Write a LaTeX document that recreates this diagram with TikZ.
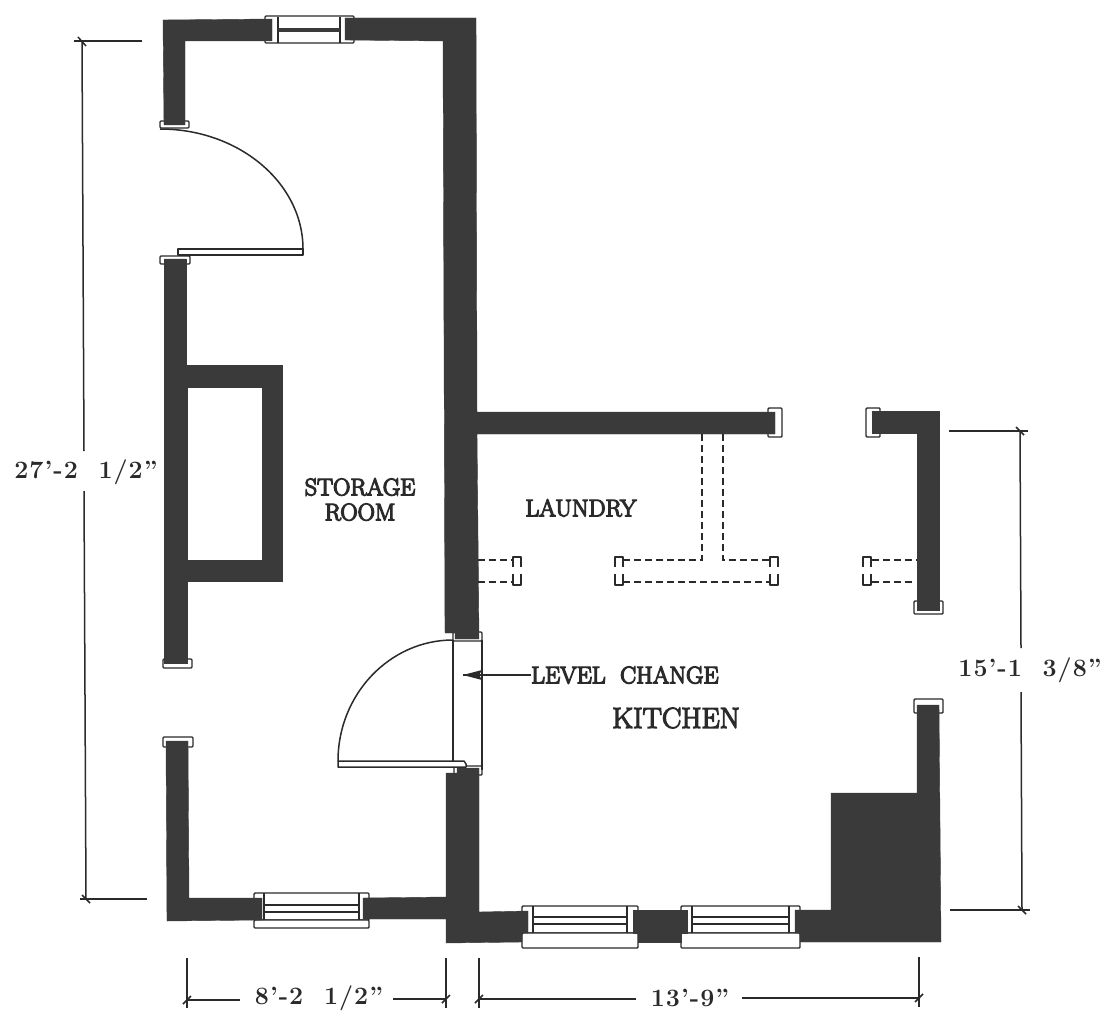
\documentclass[tikz,border=0pt]{standalone}
\usepackage{fontspec}
\newfontfamily\lab[Ligatures=TeX]{Latin Modern Roman}
\newfontfamily\dimf[Ligatures=TeX,LetterSpace=4]{Latin Modern Roman}
\newcommand{\heavy}[1]{\special{pdf:code 2 Tr 1.25 w 0.165 G}#1\special{pdf:code 0 Tr 1 w}}
\tikzset{
 wall/.style={fill=wallc,draw=wallc,line width=0.4pt},
 thin line/.style={draw=linec,line width=1.5pt,line join=round},
 jamb/.style={draw=linec,fill=white,line width=1.4pt,rounded corners=1pt},
 dimline/.style={draw=linec,line width=1.5pt},
 hid/.style={draw=linec,line width=1.4pt,dash pattern=on 7pt off 4pt},
 label/.style={font=\lab\fontsize{24}{25}\selectfont,text=linec,inner sep=0pt,align=center},
 dimtext/.style={font=\dimf\bfseries\fontsize{25}{28}\selectfont,text=linec,inner sep=0pt},
}
\definecolor{wallc}{HTML}{3A3A3A}
\definecolor{linec}{HTML}{2A2A2A}
\begin{document}
\begin{tikzpicture}[x=1pt,y=-1pt]
\useasboundingbox[fill=white] (0,0) rectangle (1113,1024);
% jambs and window frames
\foreach \a/\b/\c/\d in {160/121/189/128,160/256/190/264,163/659/192/668,163/737/193/747,768/408/782/437,866/408/880/437,914/601/943/614,914/699/943/713,453/632/482/641,454/766/482/775}
 \draw[jamb] (\a,\b) rectangle (\c,\d);
\draw[jamb] (265,16) rectangle (354,43);
\draw[jamb] (254,893) rectangle (369,920);
\draw[jamb] (254,920) rectangle (369,928);
\draw[jamb] (522,906) rectangle (638,933);
\draw[jamb] (522,933) rectangle (638,948);
\draw[jamb] (681,906) rectangle (800,933);
\draw[jamb] (681,933) rectangle (800,948);
% window sashes
\draw[thin line] (278,17) -- (278,43) (340,17) -- (340,43);
\draw[draw=wallc,line width=3.5pt] (278,30) -- (340,30);
\draw[thin line] (264,893) -- (264,920) (359,893) -- (359,920) (264,905) -- (359,905) (264,912) -- (359,912);
\draw[thin line] (533,906) -- (533,933) (627,906) -- (627,933) (533,917) -- (627,917) (533,924) -- (627,924);
\draw[thin line] (692,906) -- (692,933) (789,906) -- (789,933) (692,917) -- (789,917) (692,924) -- (789,924);
% walls
\fill[wall] (163,20) -- (272,19) -- (272,41) -- (185,41) -- (185,125) -- (164,125) -- cycle;
\fill[wall] (345,18) -- (476,18) -- (477,412) -- (775,412) -- (775,434) -- (477,434) -- (479,639) -- (455,639) -- (455,633) -- (445,633) -- (443,41) -- (345,40) -- cycle;
\fill[wall,even odd rule] (164,259) -- (186,259) -- (186,365) -- (282,365) -- (282,581) -- (187,581) -- (187,663) -- (164,663) -- cycle
 (187,387) -- (262,387) -- (262,560) -- (187,560) -- cycle;
\fill[wall] (166,741) -- (188,741) -- (189,898) -- (262,898) -- (262,920) -- (167,921) -- cycle;
\fill[wall] (363,898) -- (446,897) -- (446,773) -- (457,773) -- (457,768) -- (479,768) -- (479,912) -- (528,911) -- (528,933) -- (522,933) -- (522,942) -- (446,943) -- (446,919) -- (363,919) -- cycle;
\fill[wall] (638,933) -- (681,933) -- (681,942) -- (638,942) -- cycle;
\fill[wall] (633,910) -- (687,910) -- (687,933) -- (633,933) -- cycle;
\fill[wall] (795,910) -- (831,910) -- (831,793) -- (917,793) -- (917,705) -- (939,705) -- (941,942) -- (800,942) -- (800,933) -- (795,933) -- cycle;
\fill[wall] (872,411) -- (939,411) -- (939,610) -- (917,610) -- (917,433) -- (872,433) -- cycle;
% doors
\draw[thin line,fill=white] (178,249) -- (303,249) -- (303,255) -- (178,255) -- cycle;
\draw[thin line] (160,129) .. controls (239,129) and (303,183) .. (303,249);
\draw[thin line] (453,640) -- (453,762) (482,640) -- (482,770);
\draw[thin line] (453,640) .. controls (390,640) and (338,694) .. (338,761);
\draw[thin line,fill=white] (338,761) -- (464,761) -- (466,764) -- (466,767) -- (338,767) -- cycle;
% hidden lines
\draw[hid] (702,434) -- (702,560) -- (623,560);
\draw[hid] (723,434) -- (723,560) -- (770,560);
\draw[hid] (623,582) -- (770,582);
\draw[hid] (478,560) -- (513,560) (478,582) -- (513,582);
\draw[hid] (872,560) -- (917,560) (872,582) -- (915,582);
\foreach \a in {513,615,770,863}
 \draw[thin line] (\a,567) -- (\a,557) -- (\a+8,557) -- (\a+8,567) (\a,574) -- (\a,585) -- (\a+8,585) -- (\a+8,574);
% labels
\node[label] (storage) at (360,499.5) {\heavy{STORAGE}\\\heavy{ROOM}};
\node[label] (laundry) at (581,508) {\heavy{LAUNDRY}};
\node[label,anchor=west] (level) at (531,675) {\heavy{LEVEL\ \ CHANGE}};
\node[label,font=\lab\fontsize{29}{30}\selectfont] (kitchen) at (676,718) {\heavy{KITCHEN}};
\coordinate (levtip) at (463,675);
\draw[dimline] (level.west) -- (levtip);
\fill[linec] (levtip) -- (482,670) -- (479,675) -- (482,680) -- cycle;
% dimensions
\node[dimtext] (d27) at (86,472) {27'-2\ \ 1/2”};
\node[dimtext] (d15) at (1030,670) {15'-1\ \ 3/8”};
\node[dimtext] (d8) at (319,998) {8'-2\ \ 1/2”};
\node[dimtext] (d13) at (690,998) {13'-9”};
% left
\coordinate (lt) at (82,41); \coordinate (lb) at (86,899);
\draw[dimline] (74,41) -- (142,41) (80,899) -- (147,899);
\draw[dimline] (lt) -- (84,451) (84,491) -- (lb);
\draw[dimline] (78,37) -- (86,46) (82,895) -- (90,903);
% right
\draw[dimline] (949,431) -- (1028,431) (950,910) -- (1030,910);
\draw[dimline] (1020,431) -- (1021,648) (1021,692) -- (1022,910);
\draw[dimline] (1016,427) -- (1024,435) (1018,906) -- (1026,914);
% bottom
\draw[dimline] (187,958) -- (187,1008) (446,958) -- (446,1008) (479,958) -- (479,1008) (919,957) -- (919,1007);
\draw[dimline] (187,1000) -- (240,1000) (393,999) -- (446,999);
\draw[dimline] (479,999) -- (636,999) (742,998) -- (919,998);
\draw[dimline] (183,1004) -- (191,996) (442,1003) -- (450,995) (475,1003) -- (483,995) (915,1002) -- (923,994);
\end{tikzpicture}
\end{document}
